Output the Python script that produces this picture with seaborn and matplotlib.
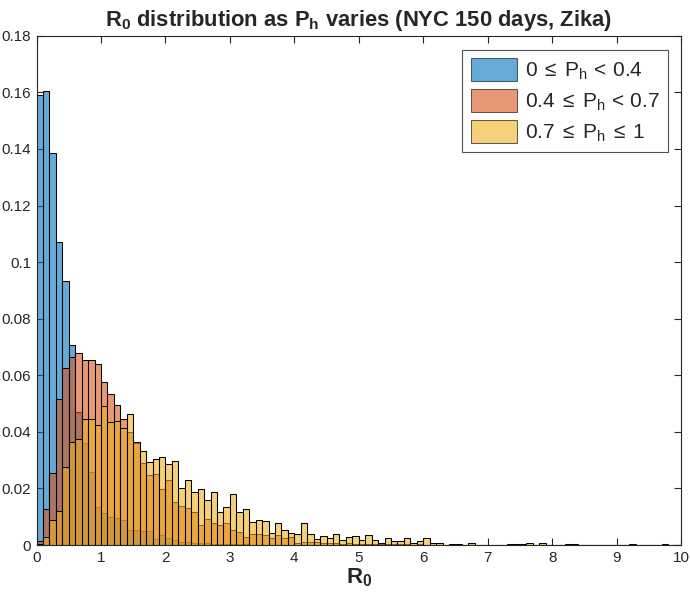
import numpy as np
import pandas as pd
import matplotlib
matplotlib.use("Agg")
import matplotlib.pyplot as plt
import seaborn as sns
from matplotlib.patches import Patch
from matplotlib.ticker import FuncFormatter

# bin centres of the histogram (width 0.1 from 0 to 10)
centers = np.round(np.arange(0.05, 10, 0.1), 2)

# normalised bin heights, one value per bin
blue = [0.159, 0.1605, 0.1385, 0.107, 0.0933, 0.0708, 0.047, 0.036, 0.026, 0.0136,
        0.0112, 0.010, 0.0095, 0.009, 0.0053, 0.0053, 0.005, 0.005, 0.002, 0.0034,
        0.0026, 0.0018, 0.001, 0.0012, 0.0008, 0.0006, 0.0008, 0.0005, 0.0004, 0.0005,
        0.0003, 0.0002, 0.0002, 0.0001, 0.0001, 0.0001] + [0] * 64

red = [0.0015, 0.0126, 0.0256, 0.0515, 0.0625, 0.0665, 0.068, 0.0655, 0.0655, 0.064,
       0.0575, 0.0535, 0.0495, 0.0445, 0.040, 0.036, 0.0289, 0.0248, 0.025, 0.0197,
       0.023, 0.0153, 0.0138, 0.013, 0.0118, 0.0071, 0.0092, 0.0079, 0.0071, 0.0077,
       0.0055, 0.0047, 0.0027, 0.004, 0.0039, 0.0037, 0.0024, 0.0035, 0.0024, 0.003,
       0.0008, 0.0012, 0.001, 0.0012, 0.0008, 0.0006, 0.0008, 0.0005, 0.0006, 0.0004,
       0.0005, 0.0003, 0.0004, 0.0003, 0.0002, 0.0003, 0.0002, 0.0002, 0.0001, 0.0002,
       0.0001, 0.0001] + [0] * 38

yellow = [0.0003, 0.003, 0.009, 0.012, 0.0277, 0.0366, 0.0375, 0.0445, 0.0445, 0.0425,
          0.049, 0.0436, 0.044, 0.0415, 0.0463, 0.0366, 0.0334, 0.0292, 0.0303, 0.0311,
          0.0285, 0.0297, 0.0202, 0.023, 0.0189, 0.0197, 0.0159, 0.0189, 0.0116, 0.0133,
          0.0179, 0.0118, 0.0127, 0.008, 0.0087, 0.0085, 0.0041, 0.0077, 0.0055, 0.0044,
          0.0039, 0.0077, 0.0039, 0.0021, 0.0031, 0.0026, 0.0039, 0.0019, 0.003, 0.0033,
          0.0019, 0.0037, 0.0018, 0.0008, 0.0024, 0.0014, 0.0014, 0.0024, 0.0009, 0.0015,
          0.0024, 0.0008, 0.0008, 0.0001, 0.0005, 0.0005, 0, 0.0009, 0, 0,
          0, 0, 0.0001, 0.0002, 0.0002, 0.0002, 0.0008, 0, 0.0006, 0,
          0, 0, 0.0002, 0.0005, 0, 0, 0, 0, 0, 0,
          0, 0, 0.0002, 0, 0, 0, 0, 0.0002, 0, 0]

labels = [r"$0\;\leq\;P_h\,<\,0.4$",
          r"$0.4\;\leq\;P_h\,<\,0.7$",
          r"$0.7\;\leq\;P_h\;\leq\;1$"]
colors = ["#0072BD", "#D95319", "#EDB120"]

sns.set_style("ticks")
plt.rcParams["font.family"] = ["Liberation Sans", "DejaVu Sans"]
plt.rcParams["mathtext.fontset"] = "custom"
plt.rcParams["mathtext.rm"] = "Liberation Sans"
plt.rcParams["mathtext.it"] = "Liberation Sans"
plt.rcParams["mathtext.bf"] = "Liberation Sans:bold"
plt.rcParams["mathtext.default"] = "regular"

fig = plt.figure(figsize=(6.9, 5.97), dpi=100)
ax = fig.add_axes([0.053, 0.087, 0.934, 0.853])

for vals, col in zip([blue, red, yellow], colors):
    df = pd.DataFrame({"R0": centers, "h": vals})
    sns.histplot(data=df, x="R0", weights="h", binwidth=0.1, binrange=(0, 10),
                 color=col, alpha=0.6, edgecolor="black", linewidth=0.75, ax=ax)

ax.set_xlim(0, 10)
ax.set_ylim(0, 0.18)
ax.set_xticks(np.arange(0, 11, 1))
ax.set_yticks(np.arange(0, 0.181, 0.02))
ax.yaxis.set_major_formatter(FuncFormatter(lambda v, p: "%g" % round(v, 2)))
ax.tick_params(direction="in", top=True, right=True, labelsize=11, length=5,
               width=0.8, color="#262626", labelcolor="#262626", pad=4)
for sp in ax.spines.values():
    sp.set_visible(True)
    sp.set_color("#262626")
    sp.set_linewidth(0.8)

ax.set_ylabel("")
ax.set_xlabel(r"$\mathbf{R_0}$", fontsize=16, color="#262626", labelpad=1)
ax.set_title(r"$\mathbf{R_0}$ distribution as $\mathbf{P_h}$ varies (NYC 150 days, Zika)",
             fontsize=15.8, fontweight="bold", color="#262626", pad=7)

handles = [Patch(facecolor=c, alpha=0.6, edgecolor="black", linewidth=0.75) for c in colors]
leg = ax.legend(handles, labels, loc="upper right", bbox_to_anchor=(0.98, 0.9725),
                borderaxespad=0, fontsize=15, handlelength=2.2, handleheight=1.3,
                frameon=True, fancybox=False, labelspacing=0.35, handletextpad=0.4,
                borderpad=0.4)
leg.get_frame().set_edgecolor("#262626")
leg.get_frame().set_linewidth(0.8)

fig.savefig("out.png", dpi=100)
